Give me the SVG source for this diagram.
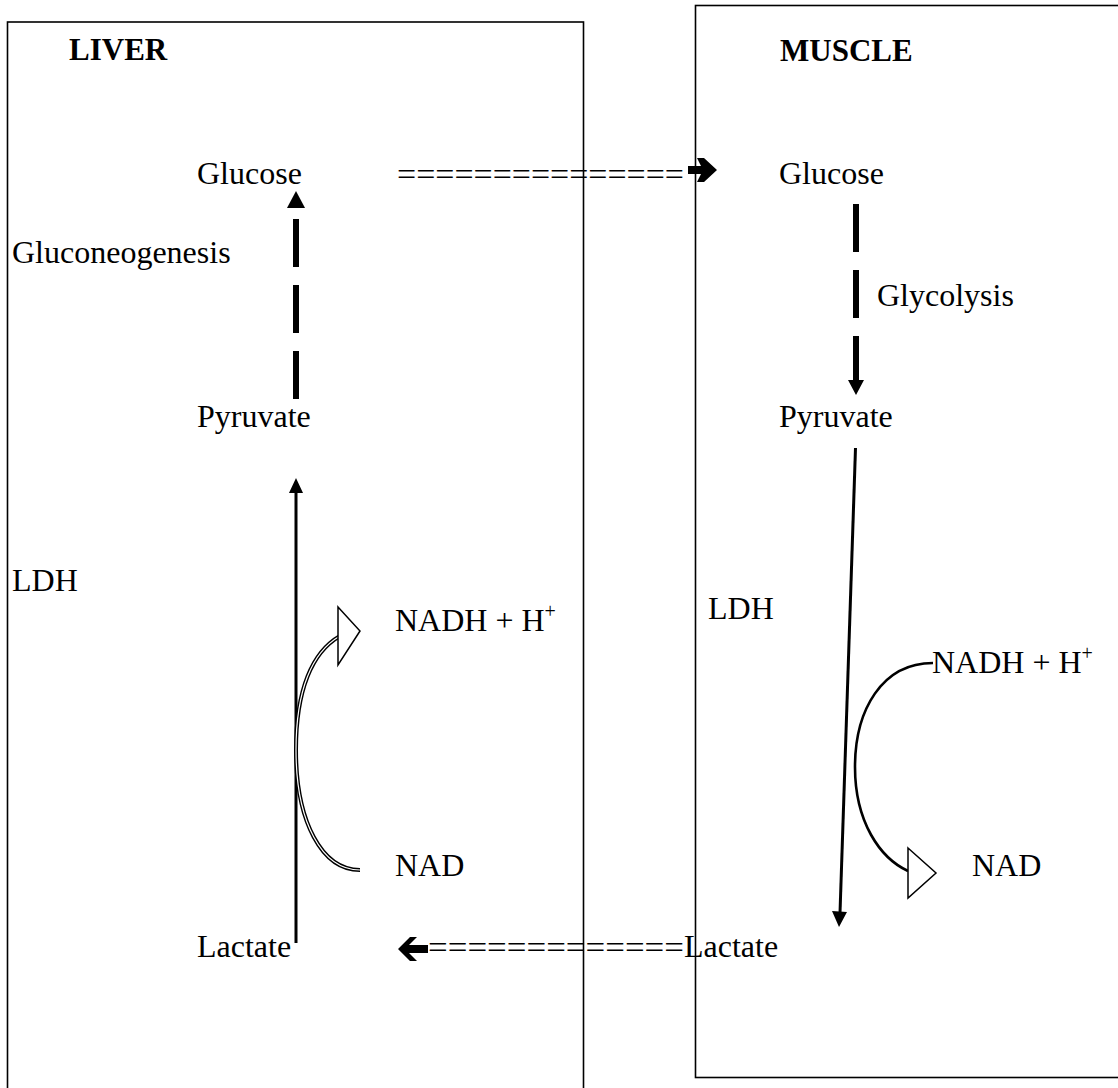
<svg xmlns="http://www.w3.org/2000/svg" width="1118" height="1088" viewBox="0 0 1118 1088">
  <style>
    .box { fill: none; stroke: #000; stroke-width: 1.6; }
    .t { font-family: "Liberation Serif", "Times New Roman", serif; font-size: 32px; fill: #000; }
    .title { font-family: "Liberation Serif", "Times New Roman", serif; font-size: 31px; font-weight: bold; fill: #000; }
    .sup { font-size: 20px; }
    .dash { fill: none; stroke: #000; stroke-width: 6; stroke-dasharray: 48 18; }
    .solid { fill: none; stroke: #000; stroke-width: 3; }
    .head { fill: #000; stroke: none; }
    .open { fill: #fff; stroke: #000; stroke-width: 1.5; stroke-linejoin: miter; }
    .curve { fill: none; stroke: #000; stroke-width: 2.6; }
    .dbl-outer { fill: none; stroke: #000; stroke-width: 4; }
    .dbl-inner { fill: none; stroke: #fff; stroke-width: 1.2; }
  </style>

  <!-- compartments -->
  <g id="liver">
    <rect class="box" x="7.5" y="22" width="576" height="1090"/>
    <text class="title" x="69" y="60">LIVER</text>
    <text class="t" x="197" y="184">Glucose</text>
    <text class="t" x="12" y="263">Gluconeogenesis</text>
    <text class="t" x="197" y="427">Pyruvate</text>
    <text class="t" x="12" y="591">LDH</text>
    <text class="t" x="395" y="631">NADH + H<tspan class="sup" dy="-13">+</tspan></text>
    <text class="t" x="395" y="876">NAD</text>
    <text class="t" x="197" y="957">Lactate</text>
  </g>

  <g id="muscle">
    <rect class="box" x="695.5" y="5.5" width="440" height="1072"/>
    <text class="title" x="780" y="61">MUSCLE</text>
    <text class="t" x="779" y="184">Glucose</text>
    <text class="t" x="877" y="306">Glycolysis</text>
    <text class="t" x="779" y="427">Pyruvate</text>
    <text class="t" x="708" y="619">LDH</text>
    <text class="t" x="932" y="673">NADH + H<tspan class="sup" dy="-13">+</tspan></text>
    <text class="t" x="972" y="876">NAD</text>
    <text class="t" x="684" y="957">Lactate</text>
  </g>

  <g id="connectors">
    <!-- glucose export: liver to muscle -->
    <text class="t" x="397" y="185" textLength="287" lengthAdjust="spacingAndGlyphs">===============</text>
    <polygon class="head" points="688,166 701,166 697,158 704,158 717,170 704,182 697,182 701,174 688,174"/>

    <!-- lactate return: muscle to liver -->
    <text class="t" x="428" y="958" textLength="256" lengthAdjust="spacingAndGlyphs">=============</text>
    <polygon class="head" points="398,949 410,937 417,937 409,945 428,945 428,953 409,953 417,961 410,961"/>

    <!-- gluconeogenesis: pyruvate up to glucose -->
    <path class="dash" d="M296,399 V218"/>
    <polygon class="head" points="296,191 305,208 287,208"/>

    <!-- liver LDH: lactate up to pyruvate -->
    <path class="solid" d="M296,943 V490"/>
    <polygon class="head" points="296,478 303,493 289,493"/>

    <!-- liver cofactor: NAD to NADH + H+ -->
    <path class="dbl-outer" d="M360,870 C322,870 296,822 296,750 C296,690 312,652 340,636"/>
    <path class="dbl-inner" d="M360,870 C322,870 296,822 296,750 C296,690 312,652 340,636"/>
    <polygon class="open" points="338,607 360,631 338,665"/>

    <!-- glycolysis: glucose down to pyruvate -->
    <path class="dash" d="M856,204 V381"/>
    <polygon class="head" points="856,395 864,380 848,380"/>

    <!-- muscle LDH: pyruvate down to lactate -->
    <path class="solid" d="M855.5,448 L840,913"/>
    <polygon class="head" points="839,927 832,911 847,912"/>

    <!-- muscle cofactor: NADH + H+ to NAD -->
    <path class="curve" d="M933,663 C882,663 855,710 855,767 C855,822 880,858 908,871"/>
    <polygon class="open" points="908,848 936,873 908,898"/>
  </g>
</svg>
